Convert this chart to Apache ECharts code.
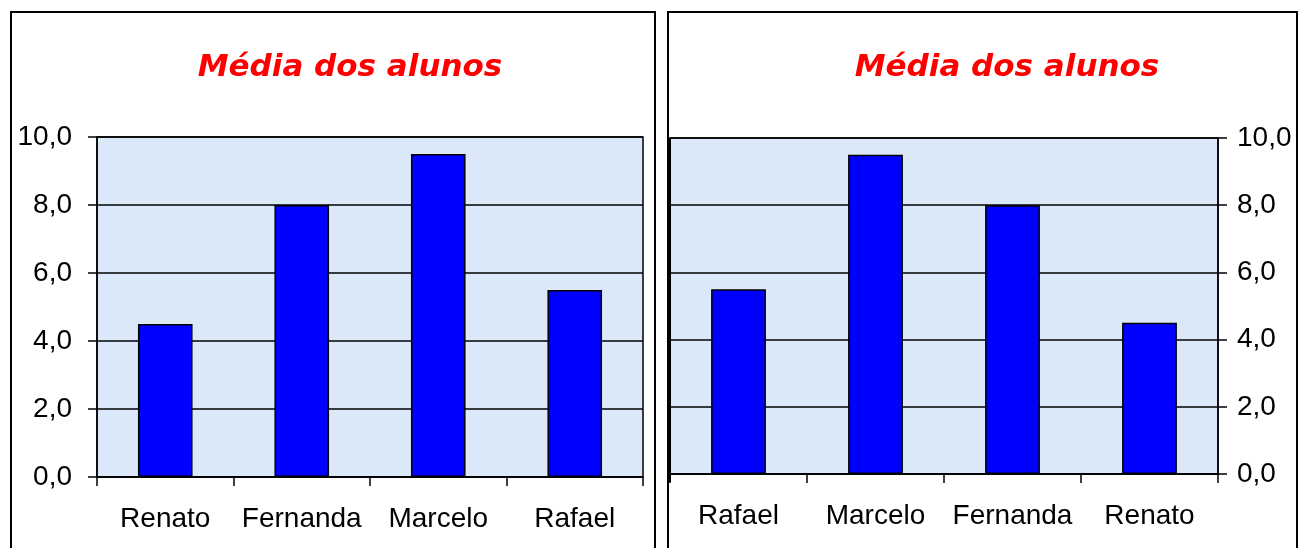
<!DOCTYPE html>
<html>
<head>
<meta charset="utf-8">
<script src="https://cdn.jsdelivr.net/npm/echarts@6/dist/echarts.min.js"></script>
<style>
html,body{margin:0;padding:0;background:#fff;}
#c{width:1300px;height:548px;}
</style>
</head>
<body>
<div id="c"></div>
<script>
const titleText = 'Média dos alunos';
const students = ['Renato', 'Fernanda', 'Marcelo', 'Rafael'];
const grades = [4.5, 8.0, 9.5, 5.5];
const yMin = 0, yMax = 10, yStep = 2;

const chart = echarts.init(document.getElementById('c'), null, {renderer: 'canvas'});
const fmt = v => v.toFixed(1).replace('.', ',');
const labelFont = {fontFamily: '"Liberation Sans", Arial, sans-serif', fontSize: 28, color: '#000'};
const plotBg = '#dae8fa';

function yAxis(idx, pos, margin) {
  return {
    gridIndex: idx, type: 'value', position: pos, min: yMin, max: yMax, interval: yStep,
    axisLine: {show: true, lineStyle: {color: '#000', width: 1.5}},
    axisTick: {show: true, length: 9, lineStyle: {color: '#000', width: 1.5}},
    splitLine: {show: true, lineStyle: {color: '#000', width: 1.5}},
    axisLabel: Object.assign({formatter: fmt, margin: margin}, labelFont)
  };
}
function xAxis(idx, inverse) {
  return {
    gridIndex: idx, type: 'category', data: students, inverse: inverse,
    axisLine: {show: true, lineStyle: {color: '#000', width: 1.5}},
    axisTick: {show: true, interval: 0, length: 9, alignWithLabel: false, lineStyle: {color: '#000', width: 1.5}},
    axisLabel: Object.assign({margin: 28, interval: 0, hideOverlap: false}, labelFont)
  };
}
function bars(idx) {
  return {
    type: 'bar', xAxisIndex: idx, yAxisIndex: idx, data: grades,
    barCategoryGap: '60%',
    itemStyle: {color: '#0000ff', borderColor: '#000', borderWidth: 1.5},
    silent: true
  };
}
const titleStyle = {fontFamily: '"DejaVu Sans", sans-serif', fontStyle: 'italic', fontWeight: 'bold', fontSize: 31, color: '#ff0000'};

chart.setOption({
  animation: false,
  backgroundColor: '#fff',
  title: [
    {text: titleText, left: 345, top: 63, textAlign: 'center', textVerticalAlign: 'middle', textStyle: titleStyle},
    {text: titleText, left: 1002, top: 63, textAlign: 'center', textVerticalAlign: 'middle', textStyle: titleStyle}
  ],
  grid: [
    {left: 97, top: 137, width: 546, height: 340, show: true, backgroundColor: plotBg, borderColor: '#000', borderWidth: 1.5},
    {left: 670, top: 138, width: 548, height: 336, show: true, backgroundColor: plotBg, borderColor: '#000', borderWidth: 1.5}
  ],
  xAxis: [xAxis(0, false), xAxis(1, true)],
  yAxis: [yAxis(0, 'left', 25), yAxis(1, 'right', 19)],
  series: [bars(0), bars(1)],
  graphic: [
    {type: 'rect', shape: {x: 11, y: 12, width: 644, height: 560}, style: {fill: null, stroke: '#000', lineWidth: 2}, silent: true},
    {type: 'rect', shape: {x: 668, y: 12, width: 629, height: 560}, style: {fill: null, stroke: '#000', lineWidth: 2}, silent: true},
    {type: 'line', shape: {x1: 669.5, y1: 138, x2: 669.5, y2: 482}, style: {stroke: '#000', lineWidth: 3}, silent: true}
  ]
});
</script>
</body>
</html>
